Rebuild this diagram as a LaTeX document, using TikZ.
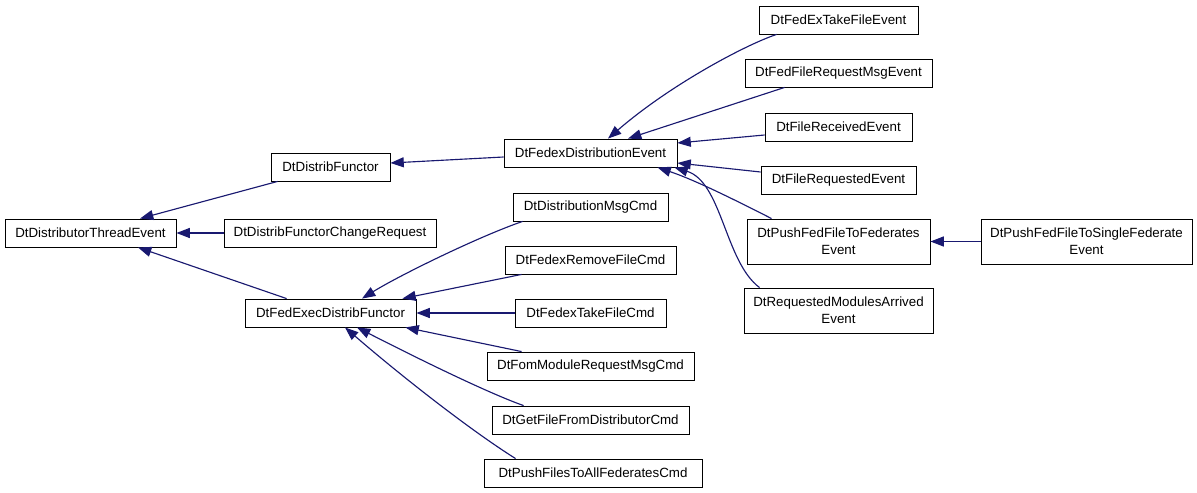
\documentclass[tikz,border=0pt]{standalone}
\usepackage{fontspec}
\setmainfont{Liberation Sans}
\usetikzlibrary{arrows.meta,calc}
\definecolor{edgeblue}{RGB}{25,25,112}
\begin{document}
\begin{tikzpicture}[x=0.75pt,y=-0.75pt,
  box/.style={draw=black, line width=0.65pt, fill=white, inner sep=0pt,
    minimum height=21pt, minimum width=#1, align=center,
    font=\fontsize{10pt}{12.5pt}\selectfont},
  tall/.style={minimum height=33.75pt},
  edge/.style={draw=edgeblue, line width=0.85pt, -{Triangle[length=10pt,width=7.5pt]}}]
\useasboundingbox (0,0) rectangle (1197,493);

\node[box=128.25pt] (TE) at (90.5,233) {DtDistributorThreadEvent};
\node[box=89.25pt] (DF) at (330.5,167) {DtDistribFunctor};
\node[box=159pt] (CR) at (330,233) {DtDistribFunctorChangeRequest};
\node[box=128.25pt] (FE) at (330.5,313) {DtFedExecDistribFunctor};
\node[box=129.75pt] (FD) at (590.5,153) {DtFedexDistributionEvent};
\node[box=116.25pt] (DM) at (590.5,207) {DtDistributionMsgCmd};
\node[box=128.25pt] (RF) at (590.5,260) {DtFedexRemoveFileCmd};
\node[box=113.25pt] (TF) at (590.5,313) {DtFedexTakeFileCmd};
\node[box=155.25pt] (FM) at (590.5,366) {DtFomModuleRequestMsgCmd};
\node[box=147.75pt] (GF) at (590.5,420) {DtGetFileFromDistributorCmd};
\node[box=163.5pt] (PF) at (593,473) {DtPushFilesToAllFederatesCmd};
\node[box=119.25pt] (FT) at (838.5,20) {DtFedExTakeFileEvent};
\node[box=140.25pt] (FR) at (838.5,73) {DtFedFileRequestMsgEvent};
\node[box=110.25pt] (RE) at (838.5,127) {DtFileReceivedEvent};
\node[box=116.25pt] (RQ) at (838.5,180) {DtFileRequestedEvent};
\node[box=137.25pt, tall] (PT) at (838.5,241.5) {DtPushFedFileToFederates\\Event};
\node[box=141.75pt, tall] (RM) at (838.5,310.5) {DtRequestedModulesArrived\\Event};
\node[box=158.25pt, tall] (PS) at (1086.5,241.5) {DtPushFedFileToSingleFederate\\Event};

% edges to DtDistributorThreadEvent
\draw[edge] ($(DF.south west)+(7,0)$) -- ($(TE.north)+(49.5,0)$);
\draw[edge] (CR.west) -- (TE.east);
\draw[edge] ($(FE.north west)+(42,0)$) -- ($(TE.south)+(47.5,0)$);
% DtFedexDistributionEvent -> DtDistribFunctor
\draw[edge] ($(FD.west)+(0,4)$) -- ($(DF.east)+(0,-4)$);
% children of DtFedexDistributionEvent
\draw[edge] ($(FT.south west)+(18,0)$) .. controls (745,45) and (670,85) .. ($(FD.north)+(17.5,0)$);
\draw[edge] ($(FR.south west)+(40,0)$) -- ($(FD.north)+(37.5,0)$);
\draw[edge] ($(RE.west)+(0,8)$) -- ($(FD.east)+(0,-10)$);
\draw[edge] ($(RQ.west)+(0,-8)$) -- ($(FD.east)+(0,10)$);
\draw[edge] ($(PT.north west)+(25,0)$) .. controls (735,200) and (695,180) .. ($(FD.south)+(67,0)$);
\draw[edge] ($(RM.north west)+(16,0)$) .. controls (725,262) and (722,182) .. ($(FD.south east)+(-3,0)$);
% DtPushFedFileToSingleFederateEvent -> DtPushFedFileToFederatesEvent
\draw[edge] (PS.west) -- (PT.east);
% children of DtFedExecDistribFunctor
\draw[edge] ($(DM.south west)+(10,0)$) .. controls (480,236) and (400,275) .. ($(FE.north)+(31.5,0)$);
\draw[edge] ($(RF.south west)+(17,0)$) -- ($(FE.north east)+(-14,0)$);
\draw[edge] (TF.west) -- (FE.east);
\draw[edge] ($(FM.north west)+(35,0)$) -- ($(FE.south east)+(-11,0)$);
\draw[edge] ($(GF.north west)+(32,0)$) .. controls (485,392) and (405,352) .. ($(FE.south)+(26.5,0)$);
\draw[edge] ($(PF.north west)+(32,0)$) .. controls (470,430) and (400,375) .. ($(FE.south)+(14.5,0)$);
\end{tikzpicture}
\end{document}
